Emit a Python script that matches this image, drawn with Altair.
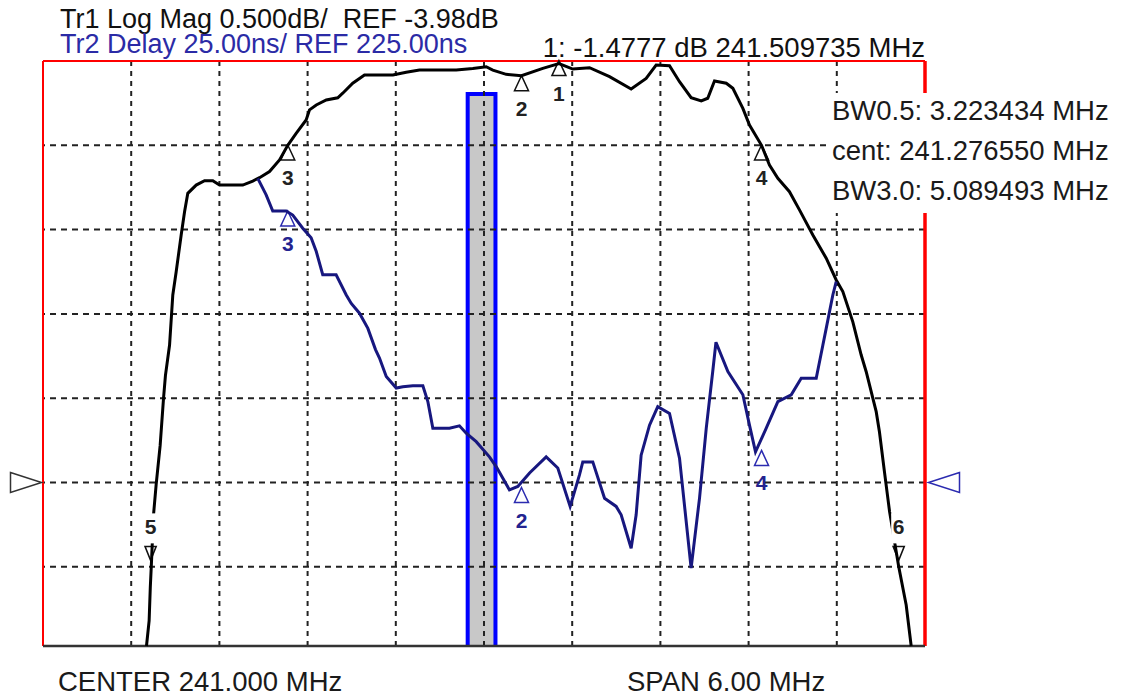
import altair as alt
import pandas as pd

# ---------------- data ----------------
# Trace 1: Log Mag (dB) vs frequency (MHz)
tr1_freq = [238.704, 238.722, 238.730, 238.737, 238.752, 238.770, 238.797, 238.820,
            238.833, 238.861, 238.883, 238.906, 238.940, 238.963, 238.985, 239.042,
            239.099, 239.155, 239.201, 239.359, 239.427, 239.473, 239.541, 239.609,
            239.665, 239.722, 239.790, 239.813, 239.859, 239.927, 240.005, 240.039,
            240.107, 240.187, 240.380, 240.471, 240.561, 240.811, 240.924, 241.015,
            241.060, 241.151, 241.255, 241.400, 241.510, 241.604, 241.718, 241.854,
            242.001, 242.103, 242.171, 242.262, 242.330, 242.409, 242.478, 242.522,
            242.568, 242.648, 242.693, 242.761, 242.806, 242.888, 242.942, 242.999,
            243.078, 243.146, 243.237, 243.328, 243.396, 243.441, 243.509, 243.566,
            243.600, 243.668, 243.690, 243.724, 243.759, 243.821, 243.872, 243.906]
tr1_db = [-4.950, -4.800, -4.600, -4.470, -4.170, -3.990, -3.760, -3.480,
          -3.345, -3.165, -2.868, -2.730, -2.512, -2.374, -2.265, -2.216,
          -2.190, -2.190, -2.216, -2.216, -2.192, -2.172, -2.136, -2.067,
          -1.980, -1.909, -1.830, -1.770, -1.741, -1.711, -1.698, -1.671,
          -1.612, -1.563, -1.563, -1.547, -1.534, -1.534, -1.524, -1.514,
          -1.534, -1.559, -1.567, -1.524, -1.495, -1.528, -1.520, -1.573,
          -1.646, -1.583, -1.504, -1.508, -1.603, -1.698, -1.717, -1.701,
          -1.599, -1.612, -1.642, -1.761, -1.860, -1.980, -2.097, -2.176,
          -2.255, -2.363, -2.512, -2.650, -2.779, -2.848, -3.027, -3.224,
          -3.323, -3.560, -3.679, -3.916, -4.153, -4.478, -4.707, -4.950]

# Trace 2: group delay (ns) vs frequency (MHz)
tr2_freq = [239.461, 239.518, 239.563, 239.654, 239.699, 239.767, 239.824, 239.859,
            239.903, 239.994, 240.063, 240.097, 240.153, 240.210, 240.262, 240.289,
            240.335, 240.403, 240.448, 240.516, 240.584, 240.618, 240.652, 240.765,
            240.833, 240.879, 240.947, 241.037, 241.083, 241.173, 241.230, 241.310,
            241.423, 241.502, 241.586, 241.650, 241.672, 241.740, 241.820, 241.899,
            241.933, 242.001, 242.035, 242.069, 242.126, 242.182, 242.262, 242.330,
            242.409, 242.466, 242.512, 242.556, 242.578, 242.659, 242.761, 242.806,
            242.847, 242.920, 242.999, 243.090, 243.158, 243.260, 243.305, 243.328,
            243.373, 243.396]
tr2_ns = [315.2, 310.3, 305.5, 305.5, 304.3, 300.4, 297.6, 293.5,
          286.6, 286.6, 280.6, 278.1, 275.2, 270.7, 264.4, 261.9,
          256.4, 253.0, 253.4, 253.7, 253.7, 249.0, 241.1, 241.1,
          241.8, 239.6, 237.1, 232.6, 229.7, 222.8, 223.8, 227.8,
          232.6, 229.3, 217.9, 227.3, 231.1, 231.1, 220.3, 217.9,
          215.4, 205.5, 215.4, 233.1, 242.0, 247.5, 245.5, 232.2,
          199.6, 220.3, 241.1, 257.9, 266.6, 257.9, 251.0, 242.0,
          234.1, 241.1, 249.0, 251.0, 255.9, 255.9, 265.7, 270.7,
          280.6, 284.6]

# markers
tr1_mk_ids = ["1", "2", "3", "4"]
tr1_mk_freq = [241.509735, 241.255, 239.665, 242.888]
tr1_mk_db = [-1.4777, -1.567, -1.978, -1.978]
tr1_dn_ids = ["5", "6"]
tr1_dn_freq = [238.732, 243.821]
tr1_dn_db = [-4.4777, -4.4777]
tr2_mk_ids = ["2", "3", "4"]
tr2_mk_freq = [241.255, 239.665, 242.888]
tr2_mk_ns = [223.5, 305.5, 234.5]

# graticule
grid_freq = [238.6, 239.2, 239.8, 240.4, 241.0, 241.6, 242.2, 242.8, 243.4]
grid_db = [-1.98, -2.48, -2.98, -3.48, -3.98, -4.48]
F_MIN, F_MAX = 238.0, 244.0
DB_TOP, DB_BOT = -1.48, -4.95
NS_TOP, NS_BOT = 350.0, 176.5
REF_DB, REF_NS = -3.98, 225.0

# shaded bar
bar_f = [240.889, 241.078]
bar_top_db = -1.676

# texts
hdr1 = "Tr1 Log Mag 0.500dB/\u00a0 REF -3.98dB"
hdr2 = "Tr2 Delay 25.00ns/ REF 225.00ns"
mk1_txt = "1: -1.4777 dB 241.509735 MHz"
bw_lines = ["BW0.5: 3.223434 MHz", "cent: 241.276550 MHz", "BW3.0: 5.089493 MHz"]
foot_left = "CENTER 241.000 MHz"
foot_right = "SPAN 6.00 MHz"

# ---------------- chart ----------------
FONT = "Liberation Sans"
W, H = 882, 585
BLUE_TR = "#17177f"
BLUE_TXT = "#2b2ba6"

xs = alt.Scale(domain=[F_MIN, F_MAX], nice=False, zero=False)
ys_db = alt.Scale(domain=[DB_BOT, DB_TOP], nice=False, zero=False)
ys_ns = alt.Scale(domain=[NS_BOT, NS_TOP], nice=False, zero=False)

def X(f):
    return alt.X(f, type="quantitative", scale=xs, axis=None)

def YDB(f):
    return alt.Y(f, type="quantitative", scale=ys_db, axis=None)

def YNS(f):
    return alt.Y(f, type="quantitative", scale=ys_ns, axis=None)

one = pd.DataFrame({"a": [0]})

tr1 = pd.DataFrame({"f": tr1_freq, "v": tr1_db})
tr2 = pd.DataFrame({"f": tr2_freq, "v": tr2_ns})
mk1 = pd.DataFrame({"id": tr1_mk_ids, "f": tr1_mk_freq, "v": tr1_mk_db})
mkd = pd.DataFrame({"id": tr1_dn_ids, "f": tr1_dn_freq, "v": tr1_dn_db})
mk2 = pd.DataFrame({"id": tr2_mk_ids, "f": tr2_mk_freq, "v": tr2_mk_ns})
bar_df = pd.DataFrame({"f1": [bar_f[0]], "f2": [bar_f[1]], "top": [bar_top_db], "bot": [DB_BOT - 0.2]})

bar = alt.Chart(bar_df).mark_rect(fill="#c8c8c8", stroke="#0000ff", strokeWidth=4, clip=True).encode(
    x=X("f1"), x2="f2", y=YDB("top"), y2="bot")

gx = alt.Chart(pd.DataFrame({"f": grid_freq})).mark_rule(
    color="#222222", strokeWidth=2, strokeDash=[5, 5]).encode(x=X("f"))
gy = alt.Chart(pd.DataFrame({"v": grid_db})).mark_rule(
    color="#222222", strokeWidth=2, strokeDash=[6, 5]).encode(y=YDB("v"))

frame_left = alt.Chart(one).mark_rule(color="#ff0000", strokeWidth=2).encode(
    x=alt.value(0), y=alt.value(0), y2=alt.value(H))
frame_top = alt.Chart(one).mark_rule(color="#ff0000", strokeWidth=2).encode(
    x=alt.value(0), x2=alt.value(W), y=alt.value(0))
frame_right = alt.Chart(one).mark_rule(color="#ff0000", strokeWidth=3.5).encode(
    x=alt.value(W), y=alt.value(0), y2=alt.value(H))
frame_bottom = alt.Chart(one).mark_rule(color="#333333", strokeWidth=2.5).encode(
    x=alt.value(0), x2=alt.value(W), y=alt.value(H))

box = alt.Chart(one).mark_rect(fill="white").encode(
    x=alt.value(786), x2=alt.value(1075), y=alt.value(32), y2=alt.value(152))

RIGHT_TRI = "M-1,-0.645L1,0L-1,0.645Z"
LEFT_TRI = "M1,-0.645L-1,0L1,0.645Z"
ref_l = alt.Chart(pd.DataFrame({"v": [REF_DB]})).mark_point(
    shape=RIGHT_TRI, size=961, filled=True, fill="white", stroke="#333333", strokeWidth=1.5, opacity=1).encode(
    x=alt.value(-17), y=YDB("v"))
ref_r = alt.Chart(pd.DataFrame({"v": [REF_NS]})).mark_point(
    shape=LEFT_TRI, size=961, filled=True, fill="white", stroke="#2b2bb0", strokeWidth=1.5, opacity=1).encode(
    x=alt.value(901), y=YNS("v"))

UP = "M0,0L0.467,1L-0.467,1Z"
DN = "M0,0L0.4,-1L-0.4,-1Z"
m1_sym = alt.Chart(mk1).mark_point(shape=UP, size=900, filled=True, fill="white",
                                   stroke="#111111", strokeWidth=1.5, opacity=1).encode(x=X("f"), y=YDB("v"))
md_sym = alt.Chart(mkd).mark_point(shape=DN, size=784, filled=True, fill="white",
                                   stroke="#111111", strokeWidth=1.5, opacity=1, yOffset=-6).encode(x=X("f"), y=YDB("v"))
m2_sym = alt.Chart(mk2).mark_point(shape=UP, size=900, filled=True, fill="white",
                                   stroke="#2b2bb0", strokeWidth=1.5, opacity=1).encode(x=X("f"), y=YNS("v"))

line1 = alt.Chart(tr1).mark_line(color="#000000", strokeWidth=3).encode(x=X("f"), y=YDB("v"))
line2 = alt.Chart(tr2).mark_line(color=BLUE_TR, strokeWidth=3).encode(x=X("f"), y=YNS("v"))

LBL_BG = "M-0.5,-1L0.5,-1L0.5,1L-0.5,1Z"
md_bg = alt.Chart(mkd).mark_point(shape=LBL_BG, size=900, filled=True, fill="white",
                                  strokeWidth=0, opacity=1, yOffset=-38).encode(x=X("f"), y=YDB("v"))

m1_lbl = alt.Chart(mk1).mark_text(font=FONT, fontSize=21, fontWeight="bold", color="#222222",
                                  dy=34, baseline="middle", align="center").encode(x=X("f"), y=YDB("v"), text="id:N")
md_lbl = alt.Chart(mkd).mark_text(font=FONT, fontSize=21, fontWeight="bold", color="#222222",
                                  dy=-38, baseline="middle", align="center").encode(x=X("f"), y=YDB("v"), text="id:N")
m2_lbl = alt.Chart(mk2).mark_text(font=FONT, fontSize=21, fontWeight="bold", color="#23238f",
                                  dy=34, baseline="middle", align="center").encode(x=X("f"), y=YNS("v"), text="id:N")

def label(txt, x, y, color="#111111", align="left", size=27.5):
    return alt.Chart(one).mark_text(text=txt, font=FONT, fontSize=size, color=color,
                                    align=align, baseline="alphabetic").encode(
        x=alt.value(x), y=alt.value(y))

texts = [
    label(hdr1, 17, -33, size=27),
    label(hdr2, 17, -8.5, color=BLUE_TXT, size=27),
    label(mk1_txt, 882, -4.5, align="right"),
    label(bw_lines[0], 789, 59, color="#1a1a1a"),
    label(bw_lines[1], 789, 99, color="#1a1a1a"),
    label(bw_lines[2], 789, 139, color="#1a1a1a"),
    label(foot_left, 15, 629.5, color="#1a1a1a"),
    label(foot_right, 584, 629.5, color="#1a1a1a"),
]

chart = alt.layer(
    bar, gx, gy, frame_left, frame_top, frame_right, frame_bottom, box,
    ref_l, ref_r, m1_sym, md_sym, m2_sym, line1, line2, md_bg,
    m1_lbl, md_lbl, m2_lbl, *texts
).resolve_scale(y="independent").properties(
    width=W, height=H,
    padding={"left": 35, "top": 53, "right": 190, "bottom": 58},
    autosize=alt.AutoSizeParams(type="none"),
    background="white",
).configure_view(stroke=None)

chart.save("out.html", embed_options={"renderer": "svg", "actions": False})
